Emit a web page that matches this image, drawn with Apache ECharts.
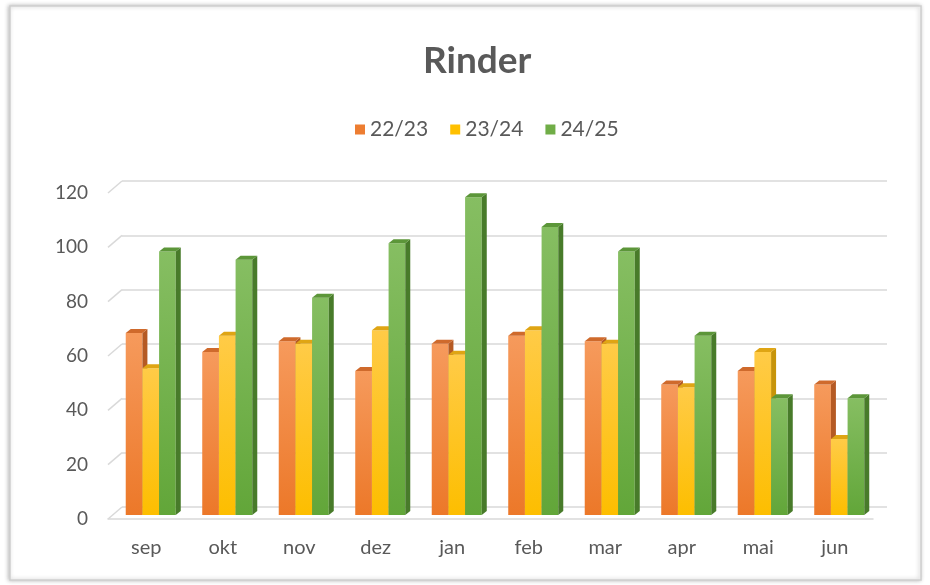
<!DOCTYPE html>
<html><head><meta charset="utf-8">
<script src="https://cdn.jsdelivr.net/npm/echarts@6/dist/echarts.min.js"></script>
<style>html,body{margin:0;padding:0;background:#fff}#c{width:930px;height:585px}</style>
</head><body><div id="c"></div>
<script>
const categories = ['sep','okt','nov','dez','jan','feb','mar','apr','mai','jun'];
const seriesNames = ['22/23','23/24','24/25'];
const s2223 = [67, 60, 64, 53, 63, 66, 64, 48, 53, 48];
const s2324 = [54, 66, 63, 68, 59, 68, 63, 47, 60, 28];
const s2425 = [97, 94, 80, 100, 117, 106, 97, 66, 43, 43];
const yTicks = [0, 20, 40, 60, 80, 100, 120];

const palettes = [
  {base:'#ED7D31', top:'#F69A5C', bot:'#EC7829', side:'#B55A24', cap:'#CF6A2C'},
  {base:'#FFC000', top:'#FFCB47', bot:'#FDBE00', side:'#C7940A', cap:'#DFA514'},
  {base:'#70AD47', top:'#86BE62', bot:'#62A639', side:'#487B2A', cap:'#5C9639'}
];
const allValues = [s2223, s2324, s2425];

function makeRender(si){
  const pal = palettes[si];
  return function(params, api){
    const c = api.value(0), v = api.value(1);
    const p = api.coord([c, v]);
    const p0 = api.coord([c, 0]);
    const bw = api.size([1, 0])[0];
    const w = bw * 0.218;
    const ox = 4.5, oy = -4, dx = 5, dy = -4;
    const xl = p[0] - 1.5 * w + si * w + ox;
    const xr = xl + w;
    const top = p[1] + oy, bot = p0[1] + oy;
    return {type:'group', children:[
      {type:'rect', shape:{x:xl, y:top, width:w, height:bot-top},
       style:{fill:new echarts.graphic.LinearGradient(0,0,0,1,[{offset:0,color:pal.top},{offset:1,color:pal.bot}])}},
      {type:'polygon', shape:{points:[[xr,top],[xr+dx,top+dy],[xr+dx,bot+dy],[xr,bot]]}, style:{fill:pal.side}},
      {type:'polygon', shape:{points:[[xl,top],[xl+dx,top+dy],[xr+dx,top+dy],[xr,top]]}, style:{fill:pal.cap}}
    ]};
  };
}

const chart = echarts.init(document.getElementById('c'), null, {renderer:'canvas'});
const font = 'Lato, "Open Sans", sans-serif';
const series = allValues.map((vals, si) => ({
  name: seriesNames[si], type:'custom', xAxisIndex:0, yAxisIndex:0,
  itemStyle:{color:palettes[si].base},
  renderItem: makeRender(si),
  encode:{x:0, y:1},
  data: vals.map((v, i) => [i, v]),
  z: 5
}));
// slanted left-wall gridline segments
series.unshift({
  type:'custom', xAxisIndex:0, yAxisIndex:0, silent:true, z:1,
  renderItem: function(params, api){
    const v = api.value(0);
    const p = api.coord([0, v]);
    const bw = api.size([1, 0])[0];
    const x = p[0] - bw / 2;
    return {type:'line', shape:{x1:x, y1:p[1], x2:x+14, y2:p[1]-12}, style:{stroke:'#d9d9d9', lineWidth:1.5}};
  },
  data: yTicks.map(t => [t])
});

chart.setOption({
  backgroundColor:'#fff',
  animation:false,
  textStyle:{fontFamily:font},
  title:{text:'Rinder', left:418, top:38, textStyle:{fontSize:37, fontWeight:'bold', color:'#595959', fontFamily:font}},
  legend:{data:seriesNames, top:114, left:350, icon:'rect', itemWidth:10, itemHeight:10, itemGap:22,
    textStyle:{fontSize:21, color:'#595959', fontFamily:font}},
  graphic:[{type:'rect', shape:{x:10, y:6, width:911, height:574}, z:-10,
    style:{fill:'#fff', stroke:'#cfcfcf', lineWidth:1.5, shadowBlur:4, shadowColor:'rgba(0,0,0,0.25)', shadowOffsetX:-1, shadowOffsetY:0}}],
  grid:[
    {left:108, right:57, top:193, bottom:66},
    {left:122, right:43, top:181, bottom:78}
  ],
  xAxis:[
    {type:'category', gridIndex:0, data:categories,
     axisLine:{show:true, lineStyle:{color:'#d9d9d9', width:1.5}}, axisTick:{show:false},
     axisLabel:{fontSize:20, color:'#595959', margin:19, fontFamily:font}},
    {type:'category', gridIndex:1, data:categories, show:false}
  ],
  yAxis:[
    {type:'value', gridIndex:0, min:0, max:120, interval:20,
     axisLine:{show:false}, axisTick:{show:false}, splitLine:{show:false},
     axisLabel:{fontSize:19, color:'#595959', margin:20, fontFamily:font}},
    {type:'value', gridIndex:1, min:0, max:120, interval:20,
     axisLine:{show:false}, axisTick:{show:false}, axisLabel:{show:false},
     splitLine:{show:true, lineStyle:{color:'#d9d9d9', width:1.5}}}
  ],
  series: series
});
</script></body></html>
